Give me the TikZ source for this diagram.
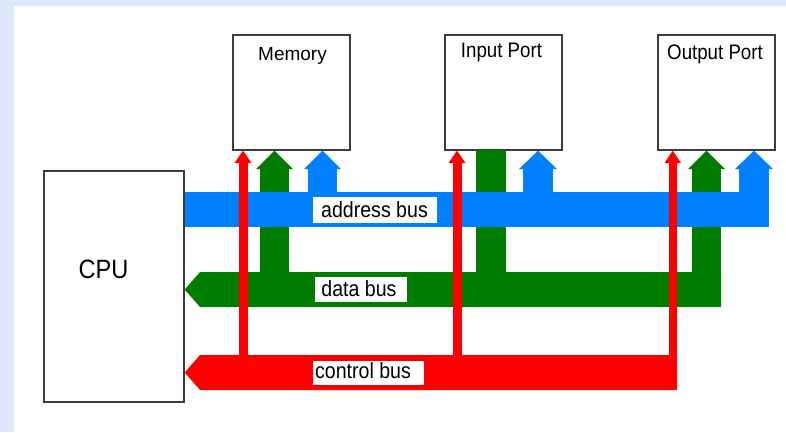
\documentclass[tikz,border=0pt]{standalone}
\usepackage{fontspec}
\setmainfont{Liberation Sans}
\newfontfamily\narrowsans{Liberation Sans}[FakeStretch=0.89]
\newfontfamily\plainsans{Liberation Sans}

\definecolor{pagetint}{RGB}{221,233,248}
\definecolor{addrblue}{RGB}{0,128,255}
\definecolor{datagreen}{RGB}{0,125,0}
\definecolor{ctrlred}{RGB}{255,0,0}
\definecolor{edgegray}{RGB}{60,60,60}

\tikzset{
  unitbox/.style={draw=edgegray, line width=1.3pt, fill=white, inner sep=0pt},
  boxtext/.style={anchor=base, inner sep=0pt, font=\narrowsans\fontsize{21}{24}\selectfont},
  buslabel/.style={anchor=base, inner sep=0pt, font=\narrowsans\fontsize{22}{25}\selectfont},
  labelpad/.style={fill=white, draw=none},
}

\begin{document}
\begin{tikzpicture}[x=1pt,y=-1pt]
  % page: tinted border and white drawing area
  \fill[pagetint] (0,0) rectangle (786,432);
  \fill[white] (14,6) rectangle (786,432);
  \useasboundingbox (0,0) rectangle (786,432);

  % units
  \node[unitbox, minimum width=140pt, minimum height=231pt] (cpu) at (114,286.5) {};
  \node[unitbox, minimum width=117pt, minimum height=115pt] (mem) at (291.5,92.5) {};
  \node[unitbox, minimum width=117pt, minimum height=115pt] (inp) at (503.5,92.5) {};
  \node[unitbox, minimum width=117pt, minimum height=115pt] (outp) at (716.5,92.5) {};

  \node[anchor=base, inner sep=0pt, font=\narrowsans\fontsize{26.5}{30}\selectfont] (cputxt) at (103.5,278) {CPU};
  \node[anchor=base, inner sep=0pt, font=\plainsans\fontsize{19}{22}\selectfont] (memtxt) at (292.5,60) {Memory};
  \node[boxtext] (inptxt) at (501.5,57) {Input Port};
  \node[boxtext] (outtxt) at (715,59) {Output Port};

  % data bus (green), drawn first so the other buses pass over it
  \fill[datagreen] (200,272) -- (721,272) -- (721,307) -- (200,307) -- (cpu.east |- 0,289.5) -- cycle;
  \fill[datagreen] (260,169) rectangle (289,272.5);
  \fill[datagreen] (256,169) -- (mem.south -| 274.5,0) -- (293,169) -- cycle;
  \fill[datagreen] (476,150) rectangle (506,272.5);
  \fill[datagreen] (692,169) rectangle (721,272.5);
  \fill[datagreen] (688,169) -- (outp.south -| 706.5,0) -- (725,169) -- cycle;

  % address bus (blue)
  \fill[addrblue] (cpu.east |- 0,192) rectangle (769,227);
  \fill[addrblue] (308,169) rectangle (337,192.5);
  \fill[addrblue] (304,169) -- (mem.south -| 322.5,0) -- (341,169) -- cycle;
  \fill[addrblue] (523,169) rectangle (553,192.5);
  \fill[addrblue] (519,169) -- (inp.south -| 538,0) -- (557,169) -- cycle;
  \fill[addrblue] (739,169) rectangle (769,192.5);
  \fill[addrblue] (735,169) -- (outp.south -| 754,0) -- (773,169) -- cycle;

  % control bus (red)
  \fill[ctrlred] (200,355) -- (677,355) -- (677,390) -- (200,390) -- (cpu.east |- 0,372.5) -- cycle;
  \fill[ctrlred] (238.5,163) rectangle (247.5,355.5);
  \fill[ctrlred] (234.5,163) -- (mem.south -| 243,0) -- (251.5,163) -- cycle;
  \fill[ctrlred] (452.5,163) rectangle (461.5,355.5);
  \fill[ctrlred] (448.5,163) -- (inp.south -| 457,0) -- (465.5,163) -- cycle;
  \fill[ctrlred] (668.5,163) rectangle (677,355.5);
  \fill[ctrlred] (664.5,163) -- (outp.south -| 672.75,0) -- (681,163) -- cycle;

  % bus labels
  \fill[labelpad] (313,197) rectangle (437,223);
  \node[buslabel] (addrtxt) at (374.5,217) {address bus};
  \fill[labelpad] (315,277) rectangle (407,302);
  \node[buslabel] (datatxt) at (359,296.5) {data bus};
  \fill[labelpad] (313,361) rectangle (424,385);
  \node[buslabel] (ctrltxt) at (363,378) {control bus};
\end{tikzpicture}
\end{document}
